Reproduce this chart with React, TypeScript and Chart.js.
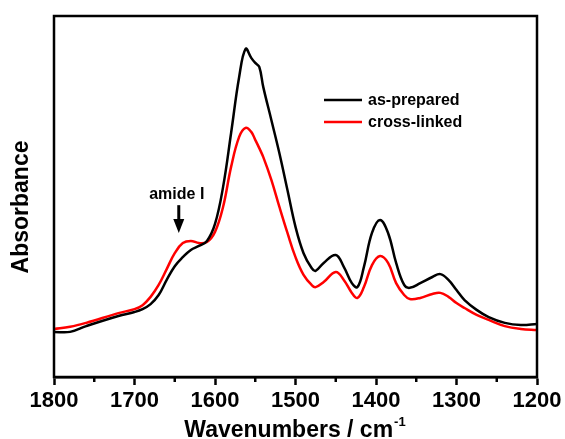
import React, { useEffect, useRef } from "react";
import { Chart, registerables } from "chart.js";

Chart.register(...registerables);

const wavenumbers = [1800, 1780, 1760, 1720, 1700, 1690, 1680, 1670, 1660, 1650, 1640, 1630, 1620, 1610, 1600, 1590, 1580, 1570, 1562, 1555, 1550, 1545, 1540, 1530, 1520, 1510, 1500, 1490, 1480, 1475, 1465, 1450, 1440, 1430, 1423, 1415, 1405, 1395, 1385, 1375, 1365, 1358, 1345, 1330, 1320, 1310, 1300, 1290, 1275, 1260, 1240, 1220, 1200];

const asPrepared = [0.125, 0.125, 0.141, 0.169, 0.180, 0.188, 0.202, 0.227, 0.269, 0.307, 0.332, 0.352, 0.363, 0.377, 0.424, 0.526, 0.676, 0.831, 0.909, 0.884, 0.870, 0.859, 0.803, 0.712, 0.620, 0.518, 0.416, 0.343, 0.302, 0.294, 0.316, 0.338, 0.305, 0.260, 0.249, 0.305, 0.399, 0.435, 0.399, 0.316, 0.255, 0.247, 0.260, 0.277, 0.285, 0.269, 0.241, 0.213, 0.186, 0.166, 0.150, 0.144, 0.147];

const crossLinked = [0.133, 0.139, 0.150, 0.177, 0.188, 0.199, 0.222, 0.255, 0.299, 0.343, 0.371, 0.377, 0.371, 0.374, 0.402, 0.471, 0.582, 0.665, 0.690, 0.679, 0.657, 0.634, 0.609, 0.546, 0.471, 0.399, 0.332, 0.283, 0.255, 0.249, 0.263, 0.291, 0.269, 0.233, 0.219, 0.249, 0.310, 0.335, 0.316, 0.260, 0.227, 0.216, 0.219, 0.230, 0.233, 0.222, 0.205, 0.191, 0.172, 0.158, 0.141, 0.133, 0.130];

const minorTicks = [1750, 1650, 1550, 1450, 1350, 1250];
const seriesNames = ["as-prepared", "cross-linked"];
const seriesColors = ["#000000", "#ff0000"];
const xTitle = "Wavenumbers / cm";
const xTitleSup = "-1";
const yTitle = "Absorbance";
const annotationText = "amide I";
const annotationX = 1645;
const annotationTextY = 0.505;
const arrowTop = 0.476;
const arrowBottom = 0.399;

const FONT = "'Liberation Sans', Arial, sans-serif";

const decorPlugin = {
  id: "decor",
  afterDraw(chart: any) {
    const ctx = chart.ctx;
    const { left, right, top, bottom } = chart.chartArea;
    const xs = chart.scales.x;
    const ys = chart.scales.y;
    ctx.save();
    ctx.strokeStyle = "#000";
    ctx.lineWidth = 2.5;
    ctx.strokeRect(left, top, right - left, bottom - top);
    ctx.lineWidth = 2.5;
    minorTicks.forEach((v) => {
      const px = xs.getPixelForValue(v);
      ctx.beginPath();
      ctx.moveTo(px, bottom);
      ctx.lineTo(px, bottom + 5);
      ctx.stroke();
    });
    ctx.fillStyle = "#000";
    ctx.font = `bold 23px ${FONT}`;
    ctx.textBaseline = "middle";
    ctx.textAlign = "left";
    const w1 = ctx.measureText(xTitle).width;
    ctx.font = `bold 13px ${FONT}`;
    const w2 = ctx.measureText(xTitleSup).width;
    const cx = (left + right) / 2;
    const startX = cx - (w1 + w2) / 2 - 1;
    ctx.font = `bold 23px ${FONT}`;
    ctx.fillText(xTitle, startX, 431);
    ctx.font = `bold 13px ${FONT}`;
    ctx.fillText(xTitleSup, startX + w1 + 1, 422);
    ctx.save();
    ctx.translate(22, 207);
    ctx.rotate(-Math.PI / 2);
    ctx.font = `bold 23px ${FONT}`;
    ctx.textAlign = "center";
    ctx.textBaseline = "middle";
    ctx.fillText(yTitle, 0, 0);
    ctx.restore();
    ctx.font = `bold 16px ${FONT}`;
    ctx.textAlign = "left";
    ctx.textBaseline = "middle";
    seriesNames.forEach((name, i) => {
      const y = 100 + i * 22;
      ctx.strokeStyle = seriesColors[i];
      ctx.lineWidth = 2.5;
      ctx.beginPath();
      ctx.moveTo(324, y);
      ctx.lineTo(362, y);
      ctx.stroke();
      ctx.fillStyle = "#000";
      ctx.fillText(name, 368, y + 1);
    });
    const ax = xs.getPixelForValue(annotationX);
    ctx.font = `bold 16px ${FONT}`;
    ctx.textAlign = "center";
    ctx.fillText(annotationText, ax - 2, ys.getPixelForValue(annotationTextY));
    const y0 = ys.getPixelForValue(arrowTop);
    const y1 = ys.getPixelForValue(arrowBottom);
    ctx.strokeStyle = "#000";
    ctx.lineWidth = 3;
    ctx.beginPath();
    ctx.moveTo(ax, y0);
    ctx.lineTo(ax, y1 - 10);
    ctx.stroke();
    ctx.beginPath();
    ctx.moveTo(ax - 5.5, y1 - 14);
    ctx.lineTo(ax + 5.5, y1 - 14);
    ctx.lineTo(ax, y1);
    ctx.closePath();
    ctx.fill();
    ctx.restore();
  },
};

export default function App() {
  const ref = useRef<HTMLCanvasElement>(null);
  useEffect(() => {
    if (!ref.current) return;
    const chart = new Chart(ref.current, {
      type: "line",
      data: {
        datasets: [
          {
            label: seriesNames[0],
            data: wavenumbers.map((x, i) => ({ x, y: asPrepared[i] })),
            borderColor: seriesColors[0],
            borderWidth: 2.5,
            pointRadius: 0,
            tension: 0.4,
          },
          {
            label: seriesNames[1],
            data: wavenumbers.map((x, i) => ({ x, y: crossLinked[i] })),
            borderColor: seriesColors[1],
            borderWidth: 2.5,
            pointRadius: 0,
            tension: 0.4,
          },
        ],
      },
      options: {
        animation: false,
        responsive: false,
        devicePixelRatio: 1,
        layout: { padding: { left: 54, right: 28, top: 16, bottom: 0 } },
        plugins: { legend: { display: false }, tooltip: { enabled: false } },
        scales: {
          x: {
            type: "linear",
            min: 1200,
            max: 1800,
            reverse: true,
            afterFit: (s: any) => {
              s.height = 62;
            },
            ticks: {
              stepSize: 100,
              color: "#000",
              font: { family: FONT, size: 22, weight: "bold" },
              padding: 3,
              maxRotation: 0,
              callback: (v: any) => String(v),
            },
            grid: {
              drawOnChartArea: false,
              drawTicks: true,
              tickLength: 8,
              tickWidth: 2.5,
              tickColor: "#000",
            },
            border: { display: true, color: "#000", width: 2.5 },
          },
          y: {
            display: false,
            min: 0,
            max: 1,
          },
        },
      },
      plugins: [decorPlugin],
    } as any);
    return () => chart.destroy();
  }, []);
  return (
    <div style={{ position: "absolute", left: 0, top: 0, width: 565, height: 439, background: "#fff" }}>
      <canvas ref={ref} width={565} height={439} style={{ display: "block" }} />
    </div>
  );
}
